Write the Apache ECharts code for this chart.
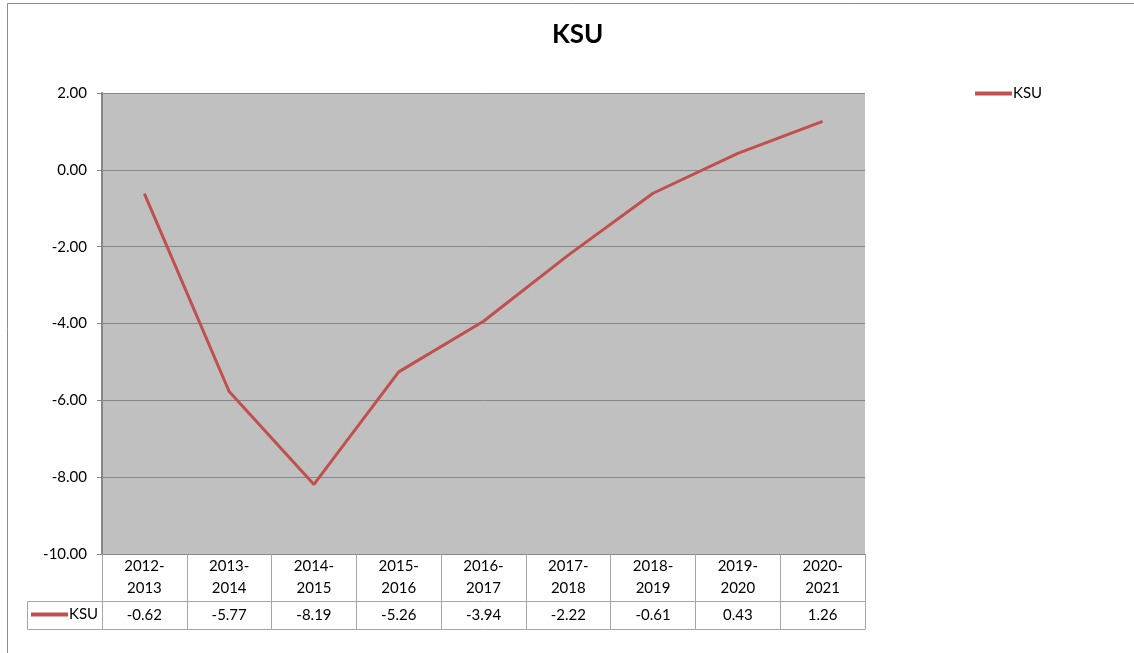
<!DOCTYPE html>
<html>
<head>
<meta charset="utf-8">
<script src="https://cdn.jsdelivr.net/npm/echarts@6/dist/echarts.min.js"></script>
<style>html,body{margin:0;padding:0;background:#fff}#c{width:1134px;height:653px}</style>
</head>
<body>
<div id="c"></div>
<script>
var categories = ['2012-2013','2013-2014','2014-2015','2015-2016','2016-2017','2017-2018','2018-2019','2019-2020','2020-2021'];
var ksuValues = [-0.62, -5.77, -8.19, -5.26, -3.94, -2.22, -0.61, 0.43, 1.26];
var seriesName = 'KSU';
var titleText = 'KSU';

var FONT = 'Lato, "Liberation Sans", sans-serif';
var GRAY = '#868686';
var TABLE = '#a6a6a6';
var RED = '#C0504D';

var chart = echarts.init(document.getElementById('c'), null, {renderer: 'canvas'});
chart.setOption({
  animation: false,
  backgroundColor: '#fff',
  textStyle: {fontFamily: FONT},
  title: {
    text: titleText, left: 552, top: 22, padding: 0,
    textStyle: {fontFamily: FONT, fontSize: 26, fontWeight: 'bold', color: '#000'}
  },
  legend: [
    {
      data: [seriesName], left: 975, top: 86, padding: 0, itemWidth: 37, itemHeight: 4, itemGap: 0,
      icon: 'rect',
      itemStyle: {color: RED},
      textStyle: {fontFamily: FONT, fontSize: 15, color: '#000', padding: [0,0,0,-4]}
    },
    {
      data: [seriesName], left: 31, top: 607, padding: 0, itemWidth: 37, itemHeight: 4, itemGap: 0,
      icon: 'rect',
      itemStyle: {color: RED},
      textStyle: {fontFamily: FONT, fontSize: 15, color: '#000', padding: [0,0,0,-4]}
    }
  ],
  grid: {
    left: 102, top: 93, right: 269, bottom: 99,
    show: true, backgroundColor: '#c0c0c0', borderWidth: 0
  },
  xAxis: [
    {
      type: 'category', data: categories, boundaryGap: true, position: 'bottom',
      axisLine: {show: true, onZero: false, lineStyle: {color: GRAY, width: 1}},
      axisTick: {show: true, interval: 0, length: 75, lineStyle: {color: TABLE, width: 1}},
      axisLabel: {
        interval: 0, margin: 1, fontFamily: FONT, fontSize: 15, color: '#000',
        lineHeight: 22, verticalAlign: 'top',
        formatter: function (v) { return v.replace('-', '-\n'); }
      },
      splitLine: {show: false}
    },
    {
      type: 'category', data: categories, boundaryGap: true, position: 'bottom', offset: 47,
      axisLine: {show: true, onZero: false, lineStyle: {color: TABLE, width: 1}},
      axisTick: {show: false},
      axisLabel: {
        interval: 0, margin: 0, fontFamily: FONT, fontSize: 15, color: '#000',
        lineHeight: 28, verticalAlign: 'top',
        formatter: function (v, i) { return ksuValues[i].toFixed(2); }
      }
    },
    {
      type: 'category', data: categories, boundaryGap: true, position: 'bottom', offset: 75,
      axisLine: {show: true, onZero: false, lineStyle: {color: TABLE, width: 1}},
      axisTick: {show: false}, axisLabel: {show: false}
    }
  ],
  yAxis: {
    type: 'value', min: -10, max: 2, interval: 2,
    axisLine: {show: true, onZero: false, lineStyle: {color: GRAY, width: 2}},
    axisTick: {show: true, length: 5, lineStyle: {color: GRAY}},
    axisLabel: {
      margin: 15, fontFamily: FONT, fontSize: 15, color: '#000',
      formatter: function (v) { return v.toFixed(2); }
    },
    splitLine: {show: true, lineStyle: {color: GRAY, width: 1}}
  },
  series: [{
    name: seriesName, type: 'line', data: ksuValues, xAxisIndex: 0,
    symbol: 'none', lineStyle: {color: RED, width: 3}, itemStyle: {color: RED}
  }],
  graphic: [
    {type: 'rect', silent: true, z: -10, shape: {x: 7.5, y: 3.5, width: 1200, height: 700},
     style: {fill: 'none', stroke: '#8c8c8c', lineWidth: 1}},
    {type: 'rect', silent: true, shape: {x: 27.5, y: 601.5, width: 75, height: 28},
     style: {fill: 'none', stroke: TABLE, lineWidth: 1}}
  ]
});
</script>
</body>
</html>
